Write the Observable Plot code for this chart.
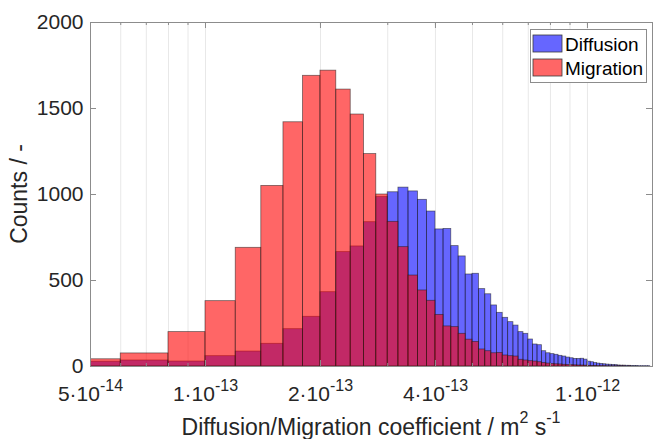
<!DOCTYPE html>
<html><head><meta charset="utf-8">
<script src="https://cdn.jsdelivr.net/npm/d3@7"></script>
<script src="https://cdn.jsdelivr.net/npm/@observablehq/plot@0.6"></script>
<style>body{margin:0;background:#fff}</style>
</head><body><div id="chart"></div>
<script>
// Lower bin edges, in units of 1e-14 m^2/s (bin width 2e-14)
const binStarts = [4,6,8,10,12,14,16,18,20,22,24,26,28,30,32,34,36,38,40,42,44,46,48,50,52,54,56,58,60,62,64,66,68,70,72,74,76,78,80,82,84,86,88,90,92,94,96,98,100,102,104,106,108,110,112,114,116,118,120,122,124,126,128,130,132,134,136,138,140,142,144];
const binWidth = 2;
const binUnit = 1e-14;

const diffusion = [28,35,29,60,87,132,217,289,432,665,698,839,985,1013,1040,1018,969,901,797,800,700,640,535,539,450,420,355,312,283,258,238,200,190,157,128,124,89,77,72,68,62,58,52,48,44,44,45,40,28,25,20,17,15,13,11,10,9,8,6,5,5,4,4,3,3,3,2,2,2,2,2];
const migration = [42,76,200,380,690,1050,1420,1690,1720,1610,1465,1235,1000,841,694,529,442,382,300,233,229,190,156,143,99,89,77,79,64,60,58,39,35,31,29,25,20,17,15,13,12,10,9,8,7,6,6,5,4,3,3,2,2,2,1,1,1,1,1,1,1,0,1,0,0,0,0,0,0,0,0];

const xMajorTicks = [5e-14, 1e-13, 2e-13, 4e-13, 1e-12];
const xMajorLabels = ["5·10^-14", "1·10^-13", "2·10^-13", "4·10^-13", "1·10^-12"];
const xGridTicks = [5e-14,6e-14,7e-14,8e-14,9e-14,1e-13,2e-13,3e-13,4e-13,5e-13,6e-13,7e-13,8e-13,9e-13,1e-12];
const yTicks = [0, 500, 1000, 1500, 2000];
const seriesNames = ["Diffusion", "Migration"];

const toRows = counts => binStarts.map((s, i) => ({x1: s * binUnit, x2: (s + binWidth) * binUnit, y: counts[i]}));
const diffRows = toRows(diffusion);
const migRows = toRows(migration);

const W = 653, H = 439, mL = 90, mR = 1, mT = 22, mB = 73;
const pw = W - mL - mR, ph = H - mT - mB;
const font = "'Liberation Sans', Arial, Helvetica, sans-serif";
const axisColor = "#8c8c8c";

const svg = Plot.plot({
  width: W, height: H,
  marginLeft: mL, marginRight: mR, marginTop: mT, marginBottom: mB,
  style: {fontFamily: font, fontSize: "21px", color: "#262626", background: "#fff", overflow: "visible"},
  x: {type: "log", domain: [5e-14, 1.48e-12]},
  y: {domain: [0, 2000]},
  marks: [
    Plot.ruleX(xGridTicks, {x: d => d, stroke: "#e8e8e8", strokeWidth: 1}),
    Plot.rect(diffRows, {x1: "x1", x2: "x2", y1: 0, y2: "y", fill: "#0000ff", fillOpacity: 0.6, stroke: "#1a1a1a", strokeOpacity: 0.6, strokeWidth: 0.8, clip: true}),
    Plot.rect(migRows, {x1: "x1", x2: "x2", y1: 0, y2: "y", fill: "#ff0000", fillOpacity: 0.6, stroke: "#1a1a1a", strokeOpacity: 0.6, strokeWidth: 0.8, clip: true}),
    Plot.tickX(xGridTicks, {x: d => d, insetTop: ph - 3, stroke: axisColor}),
    Plot.tickX(xGridTicks, {x: d => d, insetBottom: ph - 3, stroke: axisColor}),
    Plot.tickX(xMajorTicks, {x: d => d, insetTop: ph - 6, stroke: axisColor}),
    Plot.tickX(xMajorTicks, {x: d => d, insetBottom: ph - 6, stroke: axisColor}),
    Plot.tickY(yTicks, {y: d => d, insetRight: pw - 6, stroke: axisColor}),
    Plot.tickY(yTicks, {y: d => d, insetLeft: pw - 6, stroke: axisColor}),
    Plot.frame({stroke: axisColor}),
    Plot.axisY({ticks: yTicks, tickSize: 0, tickPadding: 7, fontSize: 21, label: null, tickFormat: d => String(d)}),
    Plot.axisX({ticks: xMajorTicks, tickSize: 0, tickPadding: 20, fontSize: 21, label: null,
      tickFormat: d => xMajorLabels[xMajorTicks.indexOf(d)]})
  ]
});
document.getElementById("chart").appendChild(svg);

const s = d3.select(svg);
// superscript exponents on x tick labels
s.selectAll('g[aria-label="x-axis tick label"] text').each(function () {
  const t = this.textContent;
  const [b, e] = t.split("^");
  const sel = d3.select(this);
  sel.text(null);
  sel.append("tspan").text(b);
  sel.append("tspan").attr("dy", -10).attr("font-size", 16).text(e);
});

// axis titles
const xl = s.append("text").attr("x", mL + pw / 2).attr("y", 435)
  .attr("text-anchor", "middle").attr("font-size", 23).attr("fill", "#262626").attr("font-family", font);
xl.append("tspan").text("Diffusion/Migration coefficient / m");
xl.append("tspan").attr("dy", -12).attr("font-size", 16).text("2");
xl.append("tspan").attr("dy", 12).text(" s");
xl.append("tspan").attr("dy", -12).attr("font-size", 16).text("-1");

s.append("text").attr("transform", `translate(27,${mT + ph / 2}) rotate(-90)`)
  .attr("text-anchor", "middle").attr("font-size", 23).attr("fill", "#262626").attr("font-family", font)
  .text("Counts / -");

// legend
const lg = s.append("g");
lg.append("rect").attr("x", 530.5).attr("y", 29.5).attr("width", 116).attr("height", 53)
  .attr("fill", "#fff").attr("stroke", "#8c8c8c");
const colors = ["#6666ff", "#ff6666"];
seriesNames.forEach((name, i) => {
  lg.append("rect").attr("x", 533).attr("y", 35 + i * 24).attr("width", 29).attr("height", 17)
    .attr("fill", colors[i]).attr("stroke", "#3a3a3a").attr("stroke-width", 0.8);
  lg.append("text").attr("x", 565).attr("y", 51 + i * 24).attr("font-size", 19)
    .attr("text-anchor", "start")
    .attr("fill", "#000").attr("font-family", font).text(name);
});
</script>
</body></html>
